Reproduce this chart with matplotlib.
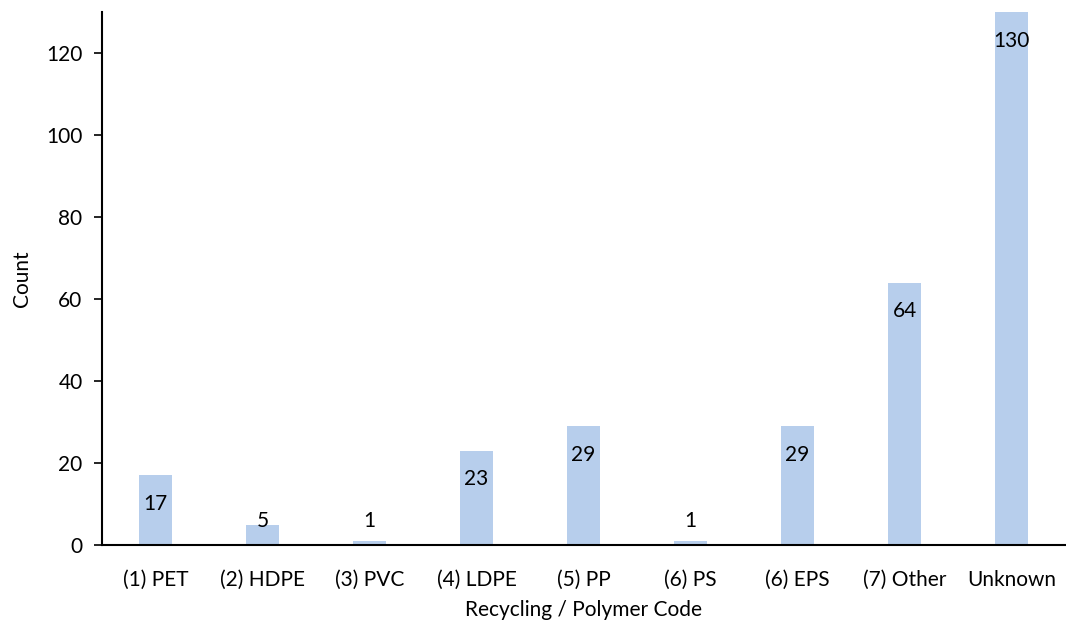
import matplotlib
matplotlib.use("Agg")
import matplotlib.pyplot as plt
import numpy as np

# data
categories = ["(1) PET", "(2) HDPE", "(3) PVC", "(4) LDPE", "(5) PP",
              "(6) PS", "(6) EPS", "(7) Other", "Unknown"]
counts = [17, 5, 1, 23, 29, 1, 29, 64, 130]
y_ticks = [0, 20, 40, 60, 80, 100, 120]

BAR_COLOR = "#B7CEEC"

plt.rcParams["font.family"] = ["Lato", "DejaVu Sans"]
FS = 15

fig = plt.figure(figsize=(10.66, 6.28), dpi=100)
ax = fig.add_axes([102 / 1066, 83 / 628, 963 / 1066, 533 / 628])

x = np.arange(len(categories))
ax.bar(x, counts, width=0.31, color=BAR_COLOR, zorder=2)

ax.set_xlim(-0.5, len(categories) - 0.5)
ax.set_ylim(0, 130)
ax.set_yticks(y_ticks)
ax.set_xticks(x)
ax.set_xticklabels(categories)

# labels sit just inside the top of the bar; short bars push them up
for xi, v in zip(x, counts):
    ly = max(v - 7.0, 5.8)
    ax.text(xi, ly, str(v), ha="center", va="center", fontsize=FS, zorder=3)

for side in ["top", "right"]:
    ax.spines[side].set_visible(False)
for side in ["left", "bottom"]:
    ax.spines[side].set_linewidth(1.5)
    ax.spines[side].set_color("black")

ax.tick_params(axis="y", length=6, width=1.2, labelsize=FS, pad=8)
ax.tick_params(axis="x", length=0, labelsize=FS, pad=18)

ax.set_xlabel("Recycling / Polymer Code", fontsize=FS, labelpad=7)
ax.set_ylabel("Count", fontsize=FS, labelpad=10)

fig.savefig("out.png", dpi=100)
